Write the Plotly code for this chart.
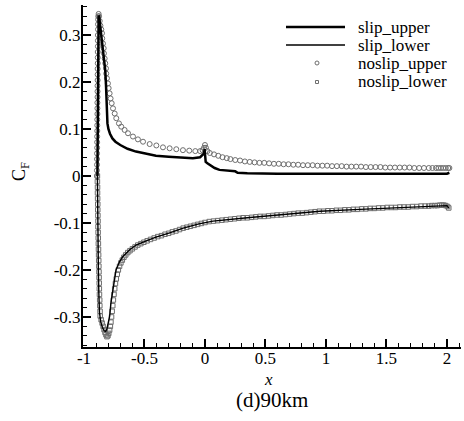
import plotly.graph_objects as go

# ---------------- data ----------------
slip_upper_x = [-0.889, -0.888, -0.887, -0.886, -0.885, -0.884, -0.883, -0.882, -0.879, -0.874,
                -0.866, -0.855, -0.842, -0.832, -0.824, -0.818, -0.813, -0.810, -0.806, -0.798,
                -0.785, -0.765, -0.740, -0.700, -0.640, -0.570, -0.490, -0.405, -0.300, -0.180,
                -0.100, -0.040, -0.020, -0.008, -0.003, 0.002, 0.006, 0.020, 0.050, 0.080,
                0.120, 0.200, 0.250, 0.270, 0.350, 0.600, 1.000, 1.200, 1.220, 1.500,
                1.650, 1.670, 1.900, 2.000, 2.020]
slip_upper_y = [0.000, 0.050, 0.100, 0.150, 0.200, 0.250, 0.300, 0.330, 0.342, 0.338,
                0.320, 0.295, 0.270, 0.250, 0.225, 0.194, 0.160, 0.130, 0.112, 0.100,
                0.090, 0.080, 0.073, 0.066, 0.058, 0.052, 0.047, 0.043, 0.041, 0.039,
                0.038, 0.040, 0.044, 0.048, 0.057, 0.045, 0.030, 0.027, 0.022, 0.017,
                0.013, 0.011, 0.010, 0.007, 0.006, 0.005, 0.005, 0.005, 0.006, 0.006,
                0.006, 0.005, 0.005, 0.005, 0.007]

slip_lower_x = [-0.889, -0.888, -0.886, -0.884, -0.881, -0.877, -0.872, -0.862, -0.848, -0.832,
                -0.821, -0.810, -0.797, -0.788, -0.777, -0.766, -0.755, -0.735, -0.705, -0.680,
                -0.622, -0.570, -0.485, -0.405, -0.292, -0.180, -0.050, 0.066, 0.350, 0.620,
                0.950, 1.280, 1.690, 1.970, 2.000, 2.015]
slip_lower_y = [0.000, -0.050, -0.100, -0.150, -0.200, -0.250, -0.290, -0.310, -0.322, -0.330,
                -0.331, -0.325, -0.310, -0.299, -0.270, -0.250, -0.235, -0.200, -0.182, -0.172,
                -0.157, -0.147, -0.138, -0.130, -0.121, -0.111, -0.102, -0.096, -0.089, -0.083,
                -0.075, -0.071, -0.066, -0.062, -0.063, -0.068]

noslip_upper_x = [-0.893, -0.893, -0.892, -0.892, -0.892, -0.891, -0.891, -0.891, -0.890, -0.890,
                  -0.890, -0.889, -0.889, -0.889, -0.888, -0.888, -0.888, -0.887, -0.887, -0.887,
                  -0.886, -0.886, -0.886, -0.885, -0.885, -0.885, -0.884, -0.884, -0.883, -0.882,
                  -0.879, -0.875, -0.870, -0.864, -0.857, -0.851, -0.849, -0.843, -0.837, -0.835,
                  -0.829, -0.824, -0.818, -0.816, -0.810, -0.802, -0.796, -0.788, -0.780, -0.771,
                  -0.760, -0.746, -0.733, -0.711, -0.692, -0.664, -0.636, -0.595, -0.554, -0.512,
                  -0.457, -0.402, -0.347, -0.292, -0.237, -0.182, -0.130, -0.080, -0.040, -0.020,
                  -0.008, 0.000, 0.008, 0.020, 0.040, 0.075, 0.110, 0.145, 0.180, 0.210,
                  0.250, 0.290, 0.330, 0.370, 0.410, 0.450, 0.490, 0.530, 0.570, 0.610,
                  0.650, 0.690, 0.730, 0.770, 0.810, 0.850, 0.890, 0.930, 0.970, 1.010,
                  1.050, 1.090, 1.130, 1.170, 1.210, 1.250, 1.290, 1.330, 1.370, 1.410,
                  1.450, 1.490, 1.530, 1.570, 1.610, 1.650, 1.690, 1.730, 1.770, 1.810,
                  1.850, 1.880, 1.910, 1.930, 1.950, 1.970, 1.990, 2.010, 2.020]
noslip_upper_y = [0.000, 0.012, 0.024, 0.036, 0.048, 0.060, 0.072, 0.084, 0.096, 0.108,
                  0.120, 0.132, 0.144, 0.156, 0.168, 0.180, 0.192, 0.204, 0.216, 0.228,
                  0.240, 0.252, 0.264, 0.276, 0.288, 0.300, 0.312, 0.323, 0.333, 0.340,
                  0.345, 0.340, 0.330, 0.320, 0.312, 0.304, 0.293, 0.282, 0.272, 0.261,
                  0.250, 0.240, 0.229, 0.218, 0.208, 0.197, 0.187, 0.176, 0.165, 0.155,
                  0.144, 0.133, 0.123, 0.112, 0.105, 0.098, 0.091, 0.084, 0.078, 0.073,
                  0.068, 0.065, 0.061, 0.059, 0.057, 0.055, 0.054, 0.053, 0.053, 0.055,
                  0.060, 0.066, 0.060, 0.053, 0.049, 0.046, 0.043, 0.040, 0.038, 0.036,
                  0.034, 0.033, 0.031, 0.030, 0.029, 0.028, 0.028, 0.027, 0.026, 0.026,
                  0.025, 0.025, 0.024, 0.024, 0.023, 0.023, 0.023, 0.022, 0.022, 0.022,
                  0.021, 0.021, 0.021, 0.020, 0.020, 0.020, 0.020, 0.019, 0.019, 0.019,
                  0.019, 0.018, 0.018, 0.018, 0.018, 0.018, 0.018, 0.017, 0.017, 0.017,
                  0.017, 0.017, 0.017, 0.017, 0.017, 0.017, 0.017, 0.017, 0.017]

noslip_lower_x = [-0.889, -0.889, -0.888, -0.888, -0.887, -0.886, -0.886, -0.885, -0.884, -0.884,
                  -0.883, -0.882, -0.881, -0.880, -0.879, -0.878, -0.877, -0.876, -0.875, -0.874,
                  -0.873, -0.872, -0.870, -0.869, -0.867, -0.866, -0.858, -0.850, -0.842, -0.834,
                  -0.826, -0.818, -0.810, -0.802, -0.795, -0.788, -0.782, -0.777, -0.772, -0.767,
                  -0.762, -0.757, -0.752, -0.746, -0.740, -0.733, -0.725, -0.716, -0.706, -0.695,
                  -0.683, -0.670, -0.655, -0.638, -0.620, -0.600, -0.578, -0.555, -0.530, -0.505,
                  -0.478, -0.450, -0.420, -0.390, -0.360, -0.330, -0.300, -0.270, -0.240, -0.210,
                  -0.180, -0.150, -0.120, -0.090, -0.060, -0.030, 0.000, 0.035, 0.070, 0.105,
                  0.140, 0.175, 0.210, 0.245, 0.280, 0.315, 0.350, 0.385, 0.420, 0.455,
                  0.490, 0.525, 0.560, 0.595, 0.630, 0.665, 0.700, 0.735, 0.770, 0.805,
                  0.840, 0.875, 0.910, 0.945, 0.980, 1.015, 1.050, 1.085, 1.120, 1.155,
                  1.190, 1.225, 1.260, 1.295, 1.330, 1.365, 1.400, 1.435, 1.470, 1.505,
                  1.540, 1.575, 1.610, 1.645, 1.680, 1.715, 1.750, 1.785, 1.820, 1.850,
                  1.875, 1.900, 1.920, 1.940, 1.960, 1.975, 1.990, 2.005, 2.015]
noslip_lower_y = [0.000, -0.012, -0.024, -0.036, -0.048, -0.060, -0.072, -0.084, -0.096, -0.108,
                  -0.120, -0.132, -0.144, -0.156, -0.168, -0.180, -0.192, -0.204, -0.216, -0.228,
                  -0.240, -0.252, -0.264, -0.276, -0.288, -0.298, -0.306, -0.313, -0.320, -0.327,
                  -0.333, -0.338, -0.342, -0.340, -0.335, -0.328, -0.320, -0.311, -0.300, -0.288,
                  -0.276, -0.264, -0.252, -0.240, -0.229, -0.219, -0.209, -0.200, -0.192, -0.185,
                  -0.179, -0.173, -0.168, -0.163, -0.159, -0.155, -0.151, -0.147, -0.144, -0.141,
                  -0.138, -0.135, -0.132, -0.129, -0.127, -0.124, -0.122, -0.119, -0.117, -0.114,
                  -0.111, -0.109, -0.107, -0.105, -0.103, -0.101, -0.099, -0.097, -0.096, -0.095,
                  -0.094, -0.093, -0.092, -0.091, -0.090, -0.089, -0.089, -0.088, -0.087, -0.086,
                  -0.086, -0.085, -0.084, -0.083, -0.083, -0.082, -0.081, -0.080, -0.079, -0.079,
                  -0.078, -0.077, -0.076, -0.075, -0.075, -0.074, -0.074, -0.073, -0.073, -0.072,
                  -0.072, -0.071, -0.071, -0.070, -0.070, -0.069, -0.069, -0.068, -0.068, -0.067,
                  -0.067, -0.067, -0.066, -0.066, -0.066, -0.065, -0.065, -0.064, -0.064, -0.064,
                  -0.063, -0.063, -0.063, -0.062, -0.062, -0.062, -0.063, -0.065, -0.068]

x_ticks = [-1, -0.5, 0, 0.5, 1, 1.5, 2]
x_tick_labels = ["-1", "-0.5", "0", "0.5", "1", "1.5", "2"]
y_ticks = [-0.3, -0.2, -0.1, 0, 0.1, 0.2, 0.3]
y_tick_labels = ["-0.3", "-0.2", "-0.1", "0", "0.1", "0.2", "0.3"]
legend_names = ["slip_upper", "slip_lower", "noslip_upper", "noslip_lower"]

# ---------------- figure ----------------
W, H = 464, 421
ML, MR, MT, MB = 83, 3, 5, 74
PW, PH = W - ML - MR, H - MT - MB
FONT = "Liberation Serif"
MARK = "#6e6e6e"


def px(xp):
    return (xp - ML) / PW


def py(yp):
    return (H - MB - yp) / PH


fig = go.Figure()
fig.add_trace(go.Scatter(x=noslip_upper_x, y=noslip_upper_y, mode="markers",
                         marker=dict(symbol="circle-open", size=5, color=MARK, line=dict(width=1, color=MARK)),
                         showlegend=False))
fig.add_trace(go.Scatter(x=noslip_lower_x, y=noslip_lower_y, mode="markers",
                         marker=dict(symbol="square-open", size=4.5, color=MARK, line=dict(width=1, color=MARK)),
                         showlegend=False))
fig.add_trace(go.Scatter(x=slip_upper_x, y=slip_upper_y, mode="lines",
                         line=dict(color="black", width=2.5), showlegend=False))
fig.add_trace(go.Scatter(x=slip_lower_x, y=slip_lower_y, mode="lines",
                         line=dict(color="black", width=1.4), showlegend=False))

axis_common = dict(
    showgrid=False, zeroline=False, showline=True, linecolor="black", linewidth=2,
    ticks="inside", ticklen=8, tickwidth=2, tickcolor="black",
    tickfont=dict(family=FONT, size=17, color="black"), mirror=False,
)
fig.update_xaxes(range=[-1.008, 2.116], tickmode="array", tickvals=x_ticks, ticktext=x_tick_labels,
                 ticklabelstandoff=-5,
                 minor=dict(dtick=0.1, ticklen=4, tickwidth=1, ticks="inside", tickcolor="black"),
                 **axis_common)
fig.update_yaxes(range=[-0.364, 0.364], tickmode="array", tickvals=y_ticks, ticktext=y_tick_labels,
                 ticklabelstandoff=-3,
                 minor=dict(dtick=0.02, ticklen=4, tickwidth=1, ticks="inside", tickcolor="black"),
                 **axis_common)

# manual legend
shapes = []
annotations = []
leg_rows = [27, 45, 63, 82]
shapes.append(dict(type="line", xref="paper", yref="paper", x0=px(286), x1=px(345),
                   y0=py(leg_rows[0]), y1=py(leg_rows[0]), line=dict(color="black", width=2.5)))
shapes.append(dict(type="line", xref="paper", yref="paper", x0=px(286), x1=px(345),
                   y0=py(leg_rows[1]), y1=py(leg_rows[1]), line=dict(color="black", width=1.4)))
shapes.append(dict(type="circle", xref="paper", yref="paper", x0=px(315), x1=px(319),
                   y0=py(leg_rows[2] + 2), y1=py(leg_rows[2] - 2), line=dict(color=MARK, width=1)))
shapes.append(dict(type="rect", xref="paper", yref="paper", x0=px(315.5), x1=px(318.5),
                   y0=py(leg_rows[3] + 1.5), y1=py(leg_rows[3] - 1.5), line=dict(color=MARK, width=1)))
for name, row in zip(legend_names, leg_rows):
    annotations.append(dict(text=name, xref="paper", yref="paper", x=px(356), y=py(row),
                            xanchor="left", yanchor="middle", showarrow=False,
                            font=dict(family=FONT, size=17, color="black")))

annotations.append(dict(text="<i>x</i>", xref="paper", yref="paper", x=px(268), y=py(379),
                        xanchor="center", yanchor="middle", showarrow=False,
                        font=dict(family=FONT, size=17, color="black")))
annotations.append(dict(text="C<sub>F</sub>", xref="paper", yref="paper", x=px(20), y=py(172),
                        xanchor="center", yanchor="middle", showarrow=False, textangle=-90,
                        font=dict(family=FONT, size=18, color="black")))
annotations.append(dict(text="(d)90km", xref="paper", yref="paper", x=px(272), y=py(400),
                        xanchor="center", yanchor="middle", showarrow=False,
                        font=dict(family=FONT, size=21, color="black")))

fig.update_layout(width=W, height=H, margin=dict(l=ML, r=MR, t=MT, b=MB),
                  paper_bgcolor="white", plot_bgcolor="white", showlegend=False,
                  font=dict(family=FONT, color="black"),
                  shapes=shapes, annotations=annotations)

fig.write_html("out.html")
